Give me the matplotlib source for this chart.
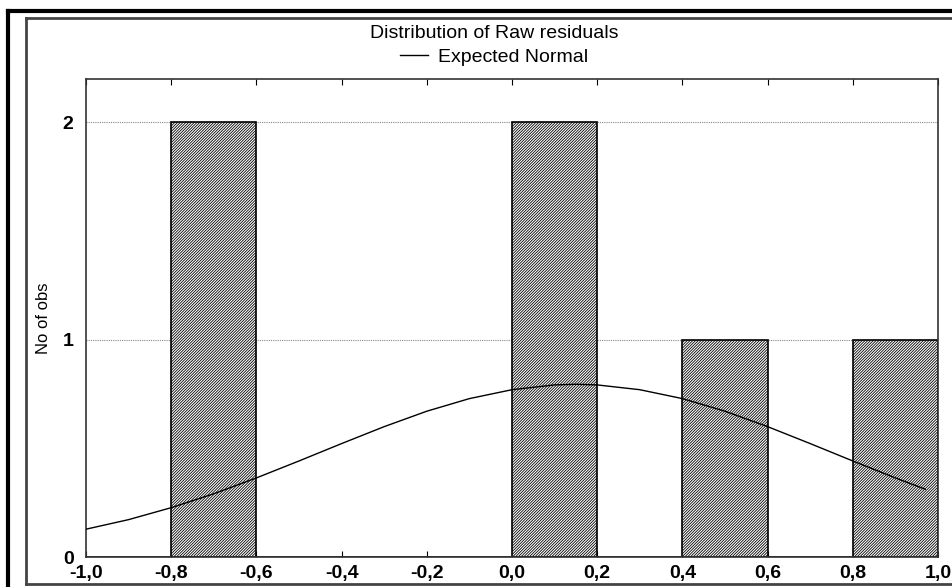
import numpy as np
import matplotlib
matplotlib.use("Agg")
import matplotlib.pyplot as plt
from matplotlib.lines import Line2D

# histogram of raw residuals (bin edges -1..1, width 0.2)
bin_left = [-1.0, -0.8, -0.6, -0.4, -0.2, 0.0, 0.2, 0.4, 0.6, 0.8]
counts = [0, 2, 0, 0, 0, 2, 0, 1, 0, 1]

# expected normal curve
curve_x = [-1.0, -0.9, -0.8, -0.7, -0.6, -0.5, -0.4, -0.3, -0.2, -0.1,
           0.0, 0.1, 0.15, 0.2, 0.3, 0.4, 0.5, 0.6, 0.7, 0.8, 0.9, 0.97]
curve_y = [0.128, 0.172, 0.227, 0.291, 0.364, 0.442, 0.522, 0.600, 0.671, 0.729,
           0.770, 0.792, 0.795, 0.792, 0.770, 0.729, 0.671, 0.600, 0.522, 0.442, 0.364, 0.312]

x_ticks = [-1.0, -0.8, -0.6, -0.4, -0.2, 0.0, 0.2, 0.4, 0.6, 0.8, 1.0]
y_ticks = [0, 1, 2]

narrow = ['Liberation Sans Narrow', 'Liberation Sans', 'DejaVu Sans']
plt.rcParams['font.family'] = ['Liberation Sans', 'DejaVu Sans']
plt.rcParams['hatch.linewidth'] = 0.6

W, H = 952, 587
fig = plt.figure(figsize=(W / 100, H / 100), dpi=100)
fig.patch.set_facecolor('white')

def px(x, y):
    return x / W, 1 - y / H

# outer and inner frames
for (x0, y0), (x1, y1), lw, c in [
        ((8, 587), (8, 11), 3, 'black'),
        ((8, 11), (952, 11), 3, 'black'),
        ((26, 584), (26, 18), 2, '#444444'),
        ((26, 18), (952, 18), 2, '#444444'),
        ((26, 584), (952, 584), 2, '#444444')]:
    a, b = px(x0, y0)
    c2, d = px(x1, y1)
    fig.add_artist(Line2D([a, c2], [b, d], transform=fig.transFigure, lw=lw, color=c))

ax = fig.add_axes([86 / W, 1 - 557 / H, 852 / W, 478 / H])
ax.set_xlim(-1.0, 1.0)
ax.set_ylim(0, 2.2)

ax.grid(axis='y', color='#888888', linestyle=(0, (1, 1)), linewidth=0.8)
ax.set_axisbelow(True)

ax.bar(bin_left, counts, width=0.2, align='edge', color='white',
       edgecolor='black', hatch='////////////', linewidth=1.2, zorder=2)

line, = ax.plot(curve_x, curve_y, color='black', linewidth=1.0, zorder=3)

ax.set_xticks(x_ticks)
ax.set_xticklabels([('%.1f' % v).replace('.', ',') for v in x_ticks],
                   fontsize=14, fontweight='bold')
ax.set_yticks(y_ticks)
ax.set_yticklabels([str(v) for v in y_ticks], fontsize=14, fontweight='bold')
ax.tick_params(axis='x', direction='in', top=True, length=4, width=0.8, pad=6)
ax.tick_params(axis='y', length=0, pad=9)
for s in ax.spines.values():
    s.set_color('#333333')
    s.set_linewidth(1.2)

fig.text(px(43, 318)[0], px(43, 318)[1], 'No of obs', rotation=90,
         ha='center', va='center', fontsize=12, family=narrow)

fig.text(px(494, 33)[0], px(494, 33)[1], 'Distribution of Raw residuals',
         ha='center', va='center', fontsize=14, family=narrow)
fig.legend(handles=[line], labels=['Expected Normal'], loc='center',
           bbox_to_anchor=px(494, 57), frameon=False,
           prop={'family': narrow, 'size': 14}, handlelength=1.45,
           handletextpad=0.5, borderpad=0)

fig.savefig('out.png', dpi=100, facecolor='white')
